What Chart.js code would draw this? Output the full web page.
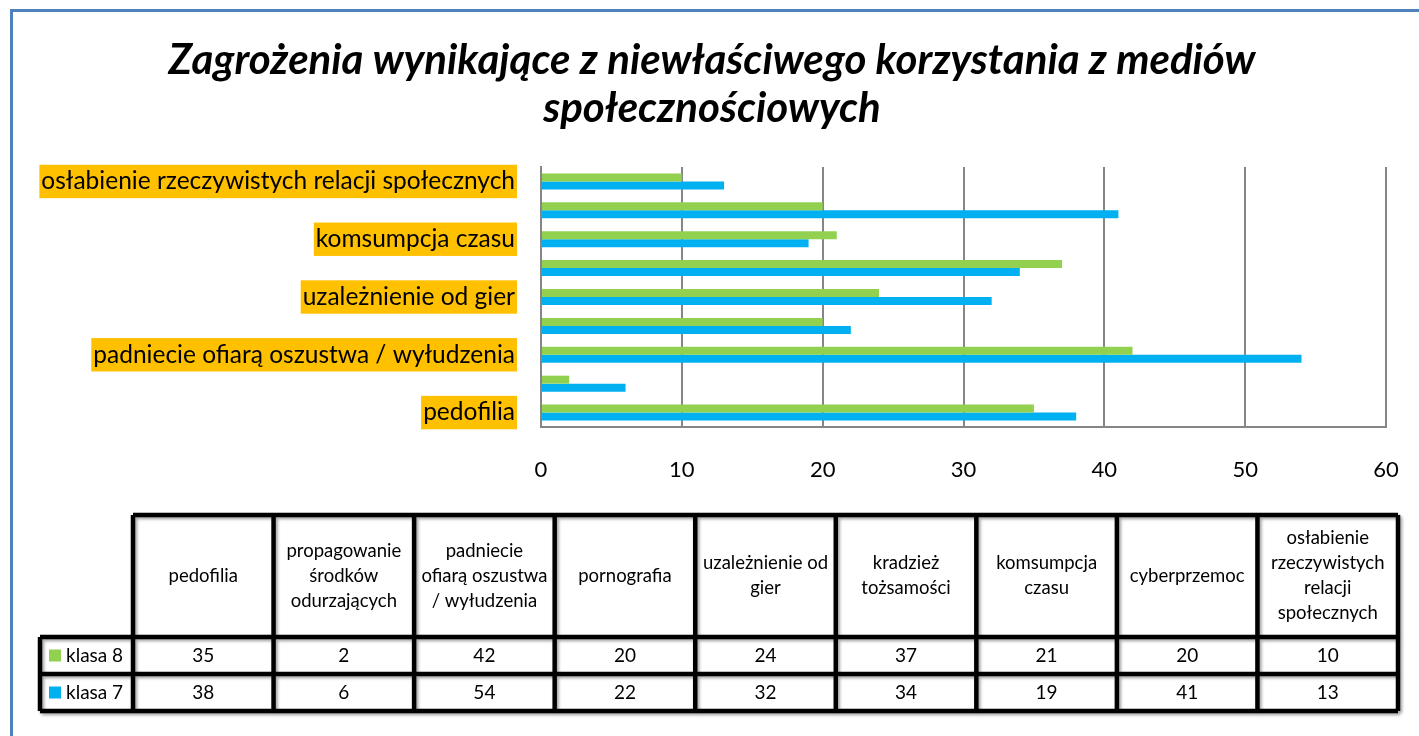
<!DOCTYPE html>
<html>
<head>
<meta charset="utf-8">
<script src="https://cdn.jsdelivr.net/npm/chart.js@4.4.1/dist/chart.umd.min.js"></script>
<style>
  html, body { margin: 0; padding: 0; background: #fff; }
  #wrap { width: 1419px; height: 736px; }
</style>
</head>
<body>
<div id="wrap"><canvas id="chart" width="1419" height="736"></canvas></div>
<script>
// data
const categories = [
  "pedofilia",
  "propagowanie środków odurzających",
  "padniecie ofiarą oszustwa / wyłudzenia",
  "pornografia",
  "uzależnienie od gier",
  "kradzież tożsamości",
  "komsumpcja czasu",
  "cyberprzemoc",
  "osłabienie rzeczywistych relacji społecznych"
];
// how the table header wraps each category
const headerLines = [
  ["pedofilia"],
  ["propagowanie", "środków", "odurzających"],
  ["padniecie", "ofiarą oszustwa", "/ wyłudzenia"],
  ["pornografia"],
  ["uzależnienie od", "gier"],
  ["kradzież", "tożsamości"],
  ["komsumpcja", "czasu"],
  ["cyberprzemoc"],
  ["osłabienie", "rzeczywistych", "relacji", "społecznych"]
];
const klasa8 = [35, 2, 42, 20, 24, 37, 21, 20, 10];
const klasa7 = [38, 6, 54, 22, 32, 34, 19, 41, 13];
const seriesNames = ["klasa 8", "klasa 7"];
const xTicks = [0, 10, 20, 30, 40, 50, 60];
const titleLines = [
  "Zagrożenia wynikające z niewłaściwego korzystania z mediów",
  "społecznościowych"
];

const GREEN = "#92D050";
const BLUE = "#00B0F0";
const GRID = "#868686";
const FONT = "Lato, 'Open Sans', sans-serif";

// blue frame round the chart
const framePlugin = {
  id: "frame",
  beforeDraw(chart) {
    const ctx = chart.ctx;
    ctx.save();
    ctx.fillStyle = "#fff";
    ctx.fillRect(0, 0, chart.width, chart.height);
    ctx.strokeStyle = "#4F81BD";
    ctx.lineWidth = 3;
    ctx.strokeRect(11.5, 10.5, chart.width + 20, chart.height + 20);
    ctx.restore();
  }
};

// data table under the plot
const tablePlugin = {
  id: "dataTable",
  afterDraw(chart) {
    const ctx = chart.ctx;
    const left = 40, colStart = 133, right = 1398;
    const top = 515, headBottom = 637, rowH = 37;
    const colW = (right - colStart) / categories.length;
    const bottom = headBottom + rowH * seriesNames.length;

    ctx.save();
    // lines
    ctx.strokeStyle = "#000";
    ctx.lineWidth = 4.5;
    ctx.shadowColor = "rgba(0,0,0,0.35)";
    ctx.shadowBlur = 3;
    ctx.shadowOffsetX = 2;
    ctx.shadowOffsetY = 2;
    ctx.beginPath();
    ctx.moveTo(colStart, top); ctx.lineTo(right, top);
    for (let r = 0; r <= seriesNames.length; r++) {
      const y = headBottom + r * rowH;
      ctx.moveTo(left, y); ctx.lineTo(right, y);
    }
    for (let c = 0; c <= categories.length; c++) {
      const x = colStart + c * colW;
      ctx.moveTo(x, top); ctx.lineTo(x, bottom);
    }
    ctx.moveTo(left, headBottom); ctx.lineTo(left, bottom);
    ctx.stroke();
    ctx.shadowColor = "transparent";

    // header text
    ctx.fillStyle = "#000";
    ctx.textAlign = "center";
    ctx.textBaseline = "middle";
    ctx.font = "18.5px " + FONT;
    const lh = 25;
    headerLines.forEach((lines, i) => {
      const cx = colStart + (i + 0.5) * colW;
      const cy = (top + headBottom) / 2 - (lines.length - 1) * lh / 2;
      lines.forEach((t, k) => ctx.fillText(t, cx, cy + k * lh));
    });

    // values
    ctx.font = "19px " + FONT;
    [klasa8, klasa7].forEach((vals, r) => {
      const cy = headBottom + (r + 0.5) * rowH;
      vals.forEach((v, i) => ctx.fillText(String(v), colStart + (i + 0.5) * colW, cy));
    });

    // row labels with legend keys
    ctx.textAlign = "left";
    ctx.font = "19px " + FONT;
    [GREEN, BLUE].forEach((col, r) => {
      const cy = headBottom + (r + 0.5) * rowH;
      ctx.fillStyle = col;
      ctx.fillRect(49, cy - 6, 12, 12);
      ctx.fillStyle = "#000";
      ctx.fillText(seriesNames[r], 66, cy);
    });
    ctx.restore();
  }
};

new Chart(document.getElementById("chart"), {
  type: "bar",
  data: {
    labels: categories,
    datasets: [
      {
        label: seriesNames[0],
        data: klasa8,
        backgroundColor: GREEN,
        categoryPercentage: 0.554,
        barPercentage: 1.0
      },
      {
        label: seriesNames[1],
        data: klasa7,
        backgroundColor: BLUE,
        categoryPercentage: 0.554,
        barPercentage: 1.0
      }
    ]
  },
  options: {
    indexAxis: "y",
    responsive: false,
    animation: false,
    devicePixelRatio: 1,
    layout: { padding: { left: 38, right: 33, top: 12, bottom: 249 } },
    plugins: {
      legend: { display: false },
      tooltip: { enabled: false },
      title: {
        display: true,
        text: titleLines,
        color: "#000",
        font: { family: FONT, size: 42, weight: "bold", style: "italic", lineHeight: 1.143 },
        padding: { top: 24, bottom: 35 }
      }
    },
    scales: {
      x: {
        min: xTicks[0],
        max: xTicks[xTicks.length - 1],
        afterBuildTicks(scale) {
          scale.ticks = xTicks.map(v => ({ value: v }));
        },
        afterFit(scale) {
          scale.height = 60;
          scale.paddingLeft = 0;
          scale.paddingRight = 0;
        },
        grid: { color: GRID, lineWidth: 2, drawTicks: false },
        border: { color: GRID, width: 2 },
        ticks: { color: "#000", font: { family: FONT, size: 22 }, padding: 30 }
      },
      y: {
        reverse: true,
        afterFit(scale) { scale.width = 503; },
        grid: { display: false, drawTicks: false },
        border: { display: true, color: GRID, width: 2 },
        ticks: {
          autoSkip: false,
          color: "#000",
          font: { family: FONT, size: 24.5 },
          padding: 26,
          callback: (v, i) => (i % 2 === 0 ? categories[i] : ""),
          showLabelBackdrop: true,
          backdropColor: ctx => (ctx.index % 2 === 0 ? "#FFC000" : "rgba(0,0,0,0)"),
          backdropPadding: { left: 2, right: 2, top: 2, bottom: 2 }
        }
      }
    }
  },
  plugins: [framePlugin, tablePlugin]
});
</script>
</body>
</html>
